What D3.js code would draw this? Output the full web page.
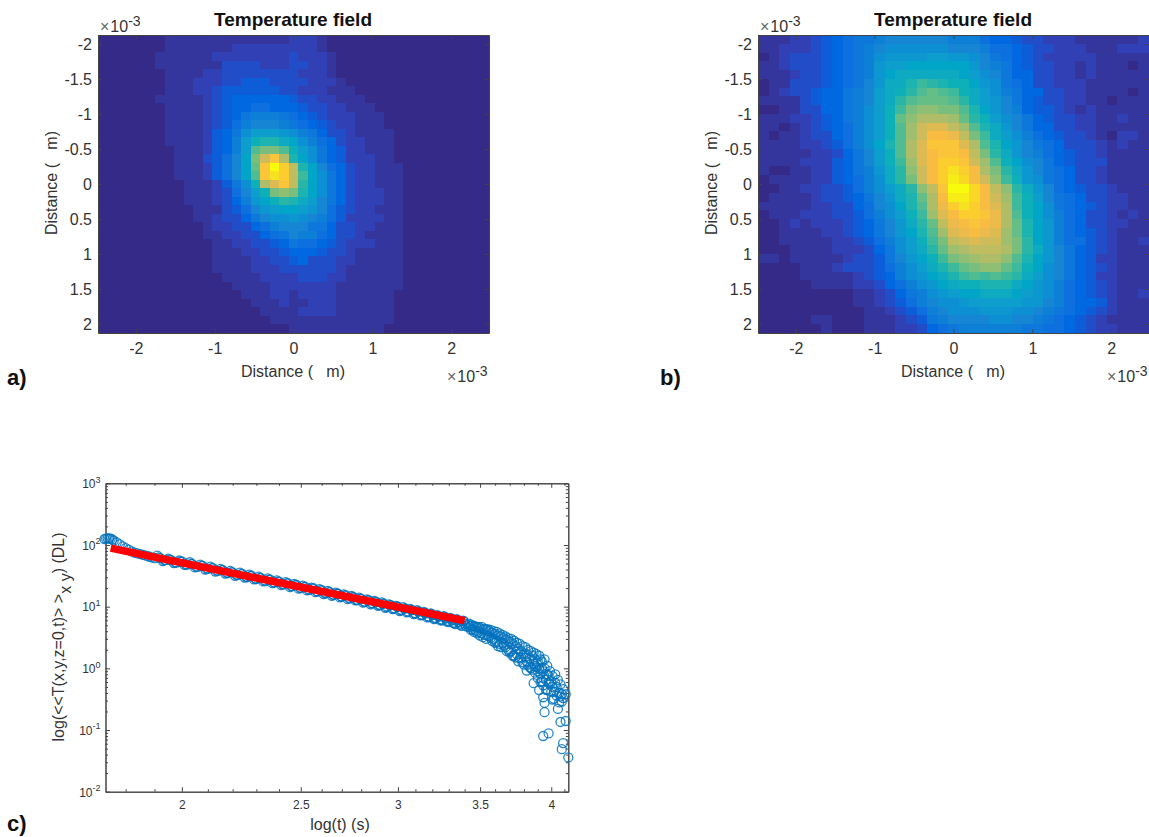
<!DOCTYPE html>
<html>
<head>
<meta charset="utf-8">
<script src="https://cdnjs.cloudflare.com/ajax/libs/d3/7.8.5/d3.min.js"></script>
<style>
    body { margin: 0; background: #fff; }
    svg { display: block; }
    text { font-family: "Liberation Sans", Arial, sans-serif; fill: #333; }
</style>
</head>
<body>
<main></main>
<script>
// field levels, one string per row, one base-36 digit per cell (0..z)
const fieldA = [
"00000001111111111111222100000000000000000",
"00000001111111222222222100000000000000000",
"00000011111122222222322210000000000000000",
"00000011111113333222332210000000000000000",
"00000001111223333333322210000000000000000",
"00000001112223344433332221000000000000000",
"00000001112234444443322211100000000000000",
"00000011111234555555433221110000000000000",
"00000001111234556655543322111000000000000",
"00000001111234578887654322211100000000000",
"00000001111234689998765432211100000000000",
"000000011112457acccba87533211110000000000",
"000000011112458cfggeda8653221110000000000",
"000000001112458cjlljfca754221110000000000",
"000000001113469dlquogda754222110000000000",
"000000001112469dkuzvpgd965322111000000000",
"000000001112469djuxvpida75322111000000000",
"000000000111247aforuphda75322111000000000",
"0000000001112369cflmlgda75322211000000000",
"0000000001112358bdfhgec975322211000000000",
"00000000001113469bcddcb964322111000000000",
"000000000011233579aaba9864222211000000000",
"00000000000122335689997753322111000000000",
"00000000000112233567988653321111000000000",
"00000000000011223345766543222111000000000",
"00000000000011122334555433211111000000000",
"00000000000011112233453332211111000000000",
"00000000000011112223333332111111000000000",
"00000000000001111222233322111111000000000",
"00000000000000111122222221111111000000000",
"00000000000000011122122221111110000000000",
"00000000000000001112112221111110000000000",
"00000000000000000111122221111110000000000",
"00000000000000000011111111111110000000000",
"00000000000000000000111111111100000000000"
];

const fieldB = [
"1112234567789999998886554332221111112",
"112223456789aaaaaa9998665433222111222",
"01233345678abbbbccbba9765432222211111",
"11233345678bccddddddb9875433221211101",
"11123345678bdeeeeeedca975533221211111",
"01133345679beegihgffdba76533222111111",
"01233455789cefhjkjifeca87553322111101",
"11113455789cehjkkkjhecb97543322110111",
"0011335578acfilmmlljgdb98544321211111",
"1112234578acfkmooonkhfca9754332211211",
"1101234568acfjnqrrpnjgeb9755332211111",
"1011233568acfjnqttsplieca865433210221",
"1111223468adgjoruuurojgdb976533321211",
"11111223579cfjortuutplheb986543321111",
"11112224579cfinrtvvuqnjfda97543331111",
"10011224578behmqtvxvtolheb97653321111",
"01111224568aehlqtvywtqmifba7653321111",
"00112233468acehmpuzzwtpmheb9654332111",
"011112334579begkotyywtqnifc9765332211",
"111112233569adgjosvxvtroifda765432211",
"011122233468acfinrtvvusojfda865332121",
"0012122234579behkpstutsokgdb865332211",
"0011112234579bdgjnrstsrnkgdb865432111",
"0011111223468acfilpqrqqnlhdb866432112",
"0001111222357acehknopppolheb975432111",
"11011111233479bdfilmnoomjgdb975422111",
"00001112333468acegiklmmkifda975432111",
"00001111123458abdegijijiheca975422111",
"000001111223568abdeffgggedba865432111",
"0000000001123578abcddeeedcba865432112",
"00000000011234689aabcccccbb9865542111",
"000000000011234689aaabbbaa98765432111",
"0000011000111234789999aa9987654321111",
"0000001000111223567888888776654322111"
];

const fieldXTicks = [-2, -1, 0, 1, 2];
const fieldYTicks = [-2, -1.5, -1, -0.5, 0, 0.5, 1, 1.5, 2];

// parula, sampled from the 64 step map
const parulaAt = [0, 4, 8, 12, 16, 20, 24, 28, 32, 36, 40, 44, 48, 52, 56, 60, 63];
const parula = ["#352a87", "#3243ba", "#0363e1", "#0d75dc", "#1485d4", "#0998d1", "#06a7c6", "#15b1b4", "#38b99e",
    "#65be86", "#92bf73", "#b7bd64", "#d9ba56", "#f8bb44", "#fcce2e", "#f5e41d", "#f9fb0e"];

// panel c: decay curve, head and main band
const decayT = [1.73,1.735,1.74,1.745,1.75,1.755,1.76,1.77,1.78,1.79,1.80,1.81,1.82,1.83,1.84,1.85,1.86,1.87,1.88,1.89,1.90,
    1.92,1.94,1.96,1.98,2.00,2.02,2.04,2.06,2.08,2.10,2.12,2.14,2.16,2.18,2.20,2.22,2.24,2.26,2.28,2.30,2.32,2.34,2.36,2.38,2.40,
    2.42,2.44,2.46,2.48,2.50,2.52,2.54,2.56,2.58,2.60,2.62,2.64,2.66,2.68,2.70,2.72,2.74,2.76,2.78,2.80,2.82,2.84,2.86,2.88,2.90,
    2.92,2.94,2.96,2.98,3.00,3.02,3.04,3.06,3.08,3.10,3.12,3.14,3.16,3.18,3.20,3.22,3.24,3.26,3.28,3.30,3.32,3.34,3.36,3.38,3.40];
const decayV = [125,127,128,128,127,123,118,110,102,95,89,84,79,75,73,71,69,67,65,63,61,
    61,57,57,52,54,48,49,44,46,41,42,38,39,35,36,32.5,34,30,31.5,28,29,26,27.5,24.5,25.5,
    23,24,21.5,22.5,20,21,18.8,20,17.5,18.5,16.5,17.2,15.5,16.2,14.5,15.2,13.6,14.2,12.8,13.4,12,12.7,11.4,11.9,10.7,
    11.3,10.1,10.6,9.4,10,8.9,9.4,8.3,8.8,7.8,8.3,7.3,7.8,6.8,7.3,6.4,6.9,6,6.4,5.6,6,5.2,5.6,4.9,5.3];

// in between points of the band
const bandT = [1.91,1.93,1.95,1.97,1.99,2.01,2.03,2.05,2.07,2.09,2.11,2.13,2.15,2.17,2.19,2.21,2.23,2.25,2.27,2.29,2.31,2.33,2.35,2.37,2.39,
    2.41,2.43,2.45,2.47,2.49,2.51,2.53,2.55,2.57,2.59,2.61,2.63,2.65,2.67,2.69,2.71,2.73,2.75,2.77,2.79,2.81,2.83,2.85,2.87,2.89,
    2.91,2.93,2.95,2.97,2.99,3.01,3.03,3.05,3.07,3.09,3.11,3.13,3.15,3.17,3.19,3.21,3.23,3.25,3.27,3.29,3.31,3.33,3.35,3.37,3.39,3.41];
const bandV = [67,55,60,51,56,47.6,52.5,43.3,48,40,44.7,37.1,41,34.4,38,31.6,35.7,29.7,33,27.6,30.6,25.7,28.8,24,26.6,
    22.4,24.9,20.7,23.3,19.6,22,18.3,20.4,17.2,19.2,16,18,15,16.9,14.1,15.8,13.3,14.9,12.6,14,11.6,13.1,10.9,12.4,10.3,
    11.7,9.6,10.9,9.1,10.3,8.5,9.8,8.05,9.2,7.55,8.75,7.2,8.2,6.7,7.8,6.3,7.3,6,7,5.7,6.6,5.4,6.25,5.1,5.95,4.8];

const midT = [1.915,1.935,1.955,1.975,1.995,2.015,2.035,2.055,2.075,2.095,2.115,2.135,2.155,2.175,2.195,2.215,2.235,2.255,2.275,2.295,2.315,2.335,2.355,2.375,2.395,
    2.415,2.435,2.455,2.475,2.495,2.515,2.535,2.555,2.575,2.595,2.615,2.635,2.655,2.675,2.695,2.715,2.735,2.755,2.775,2.795,2.815,2.835,2.855,2.875,2.895,
    2.915,2.935,2.955,2.975,2.995,3.015,3.035,3.055,3.075,3.095,3.115,3.135,3.155,3.175,3.195,3.215,3.235,3.255,3.275,3.295,3.315,3.335,3.355,3.375,3.395];
const midV = [63,57,58,52.4,53.6,48.5,49.5,44.7,45.7,41.3,42.2,38.3,39.1,35.5,36.4,33,33.8,30.7,31.4,28.5,29.3,26.6,27.3,24.8,25.4,
    23.2,23.8,21.6,22.2,20.3,20.8,19,19.6,17.8,18.3,16.8,17.2,15.7,16.2,14.7,15.2,14,14.3,12.9,13.5,12,12.6,11.3,11.9,10.6,
    11.1,9.8,10.5,9.3,10,8.7,9.3,8.3,8.85,7.8,8.4,7.4,7.95,6.9,7.6,6.6,7.1,6.2,6.8,5.9,6.4,5.5,6.1,5.3,5.8];

// the scattered tail
const tailT = [3.42,3.43,3.44,3.45,3.46,3.47,3.48,3.49,3.50,3.51,3.52,3.53,3.54,3.55,3.56,3.57,3.58,3.59,3.60,3.61,3.62,3.63,3.64,3.65,3.66,
    3.67,3.68,3.69,3.70,3.71,3.72,3.73,3.74,3.75,3.76,3.77,3.78,3.79,3.80,3.81,3.82,3.82,3.83,3.84,3.85,3.86,3.87,3.87,3.88,3.88,
    3.89,3.90,3.90,3.91,3.91,3.92,3.92,3.93,3.93,3.94,3.94,3.94,3.94,3.95,3.95,3.95,3.96,3.97,3.97,3.98,3.98,3.99,4.00,4.01,4.01,
    4.02,4.03,4.04,4.05,4.06,4.07,4.07,4.08,4.08,4.09,4.09,4.11,4.11,4.13,
    3.43,3.44,3.45,3.46,3.47,3.48,3.49,3.50,3.51,3.52,3.53,3.54,3.55,3.56,3.57,3.58,3.59,3.60,3.61,3.62,3.63,3.64,3.65,3.66,3.67,3.68,3.69,
    3.70,3.71,3.72,3.73,3.74,3.75,3.76,3.77,3.78,3.79,3.80,3.81,3.82,3.83,3.84,3.85,3.86,3.87,3.88,3.89,3.90,3.91,3.92,3.93,3.94,3.95,3.96,
    3.97,3.98,3.99,4.00,4.01,4.02,4.03,4.04,4.05,4.06,4.07,4.08,4.09];
const tailV = [5.1,4.6,4.9,4.3,4.8,4.1,4.6,3.9,4.5,3.7,4.3,3.5,4.2,3.4,4.0,3.1,3.8,3.0,3.6,2.7,3.4,2.5,3.3,2.6,3.1,
    2.2,2.9,2.0,2.7,1.9,2.5,1.6,2.3,1.7,2.1,1.45,1.9,1.25,1.75,1.5,0.92,1.7,1.15,1.45,1.0,1.6,0.575,1.2,0.85,1.4,
    1.05,0.7,1.3,0.445,1.0,0.8,1.4,1.28,0.62,0.34,0.53,0.08,0.9,0.195,0.275,1.0,0.65,0.445,0.8,0.76,0.088,0.55,0.62,0.31,0.5,
    0.41,0.58,0.5,0.22,0.4,0.135,0.35,0.29,0.049,0.46,0.0615,0.14,0.38,0.036,
    5.3,4.2,5.0,3.9,4.8,3.7,4.7,3.4,4.7,3.2,4.4,3.0,4.3,3.3,4.2,2.8,4.0,2.6,3.9,2.3,3.7,2.2,3.5,2.4,3.3,1.9,3.1,
    1.8,3.0,1.6,2.8,1.5,2.6,1.3,2.5,1.5,2.3,1.15,2.2,1.3,2.0,1.05,1.9,0.95,1.8,1.1,1.7,0.9,1.6,0.6,1.0,0.7,1.4,0.45,
    1.1,0.58,0.9,0.42,0.75,0.32,0.8,0.36,0.65,0.28,0.55,0.38,0.33];

// fitted line
const fitT = [1.75, 3.4];
const fitV = [89, 5.9];

const timeTicks = [2, 2.5, 3, 3.5, 4];
const timeMinor = [1.8, 1.9, 2.1, 2.2, 2.3, 2.4, 2.6, 2.7, 2.8, 2.9, 3.1, 3.2, 3.3, 3.4, 3.6, 3.7, 3.8, 3.9, 4.1];
const decades = [-2, -1, 0, 1, 2, 3];

!function(){
    const W = 1149, H = 837;
    const ink = '#444';

    let svg = d3.select('main').append('svg')
        .attr('width', W)
        .attr('height', H);

    // reference is a slightly soft raster
    let defs = svg.append('defs');
    defs.append('filter').attr('id', 'soft')
        .attr('x', '-5%').attr('y', '-5%').attr('width', '110%').attr('height', '110%')
        .append('feGaussianBlur').attr('stdDeviation', 0.7);

    const color = d3.scaleLinear()
        .domain(parulaAt.map(i => i / 63))
        .range(parula);

    const styleAxis = g => {
        g.selectAll('.domain').attr('stroke', ink);
        g.selectAll('.tick line').attr('stroke', ink);
    };

    const times = (g, x, y, size) => {
        let t = g.append('text').attr('x', x).attr('y', y).attr('font-size', size);
        t.append('tspan').attr('fill', '#666').text('×');
        t.append('tspan').attr('dx', 1).text('10');
        t.append('tspan').attr('font-size', size - 2).attr('dy', -6).text('-3');
    };

    const drawField = (rows, left, id, label) => {
        const top = 35, bottom = 333, right = left + 391;
        let grid = rows.map(r => r.split('').map(c => parseInt(c, 36)));

        let x = d3.scaleLinear().domain([-2.48, 2.48]).range([left, right]);
        let y = d3.scaleLinear().domain([-2.13, 2.13]).range([top, bottom]);
        let col = d3.scaleBand().domain(d3.range(grid[0].length)).range([left, right]);
        let row = d3.scaleBand().domain(d3.range(grid.length)).range([top, bottom]);

        let g = svg.append('g').attr('id', id);

        defs.append('clipPath').attr('id', id + '-clip')
            .append('rect').attr('x', left).attr('y', top)
            .attr('width', right - left).attr('height', bottom - top);

        g.append('g').attr('clip-path', 'url(#' + id + '-clip)')
            .append('g').attr('filter', 'url(#soft)')
            .selectAll('g').data(grid).join('g')
            .attr('transform', (d, i) => 'translate(0,' + row(i) + ')')
            .selectAll('rect').data(d => d).join('rect')
            .attr('x', (d, i) => col(i))
            .attr('width', col.bandwidth())
            .attr('height', row.bandwidth())
            .attr('shape-rendering', 'crispEdges')
            .attr('fill', d => color(d / 35));

        const fmt = d => String(d);
        g.append('g').attr('transform', 'translate(0,' + bottom + ')')
            .call(d3.axisBottom(x).tickValues(fieldXTicks).tickFormat(fmt).tickSize(-4).tickPadding(10).tickSizeOuter(0))
            .call(styleAxis);
        g.append('g').attr('transform', 'translate(0,' + top + ')')
            .call(d3.axisTop(x).tickValues(fieldXTicks).tickFormat('').tickSize(-4).tickSizeOuter(0))
            .call(styleAxis);
        g.append('g').attr('transform', 'translate(' + left + ',0)')
            .call(d3.axisLeft(y).tickValues(fieldYTicks).tickFormat(fmt).tickSize(-4).tickPadding(6).tickSizeOuter(0))
            .call(styleAxis);
        g.append('g').attr('transform', 'translate(' + right + ',0)')
            .call(d3.axisRight(y).tickValues(fieldYTicks).tickFormat('').tickSize(-4).tickSizeOuter(0))
            .call(styleAxis);
        g.selectAll('.tick text')
            .attr('font-size', 16)
            .attr('font-family', '"Liberation Sans", Arial, sans-serif')
            .attr('fill', '#333');

        g.append('text')
            .attr('x', left + 195).attr('y', 26)
            .attr('text-anchor', 'middle')
            .attr('font-size', 19).attr('font-weight', 'bold')
            .style('fill', '#111')
            .text('Temperature field');

        g.append('text')
            .attr('x', left + 195).attr('y', 377)
            .attr('text-anchor', 'middle')
            .attr('font-size', 16)
            .text('Distance (\u00a0\u00a0\u00a0m)');

        g.append('text')
            .attr('transform', 'translate(' + (left - 41) + ',183) rotate(-90)')
            .attr('text-anchor', 'middle')
            .attr('font-size', 16)
            .text('Distance (\u00a0\u00a0\u00a0m)');

        times(g, left + 2, 32, 16);
        times(g, right - 42, 382, 16);

        g.append('text')
            .attr('x', left - (id === 'fieldA' ? 91 : 98)).attr('y', 385)
            .attr('font-size', 22).attr('font-weight', 'bold')
            .style('fill', '#111')
            .text(label);
    };

    drawField(fieldA, 98, 'fieldA', 'a)');
    drawField(fieldB, 758, 'fieldB', 'b)');

    // panel c
    const left = 105.5, right = 568.3, top = 483.3, bottom = 791.7;
    let x = d3.scaleLog().domain([1.733, 4.13]).range([left, right]);
    let y = d3.scaleLog().domain([0.01, 1000]).range([bottom, top]);

    let c = svg.append('g').attr('id', 'decay');

    let yMinor = [];
    decades.slice(0, -1).forEach(e => d3.range(2, 10).forEach(m => yMinor.push(m * Math.pow(10, e))));
    let yMajor = decades.map(e => Math.pow(10, e));

    c.append('g').attr('transform', 'translate(0,' + bottom + ')')
        .call(d3.axisBottom(x).tickValues(timeMinor).tickFormat('').tickSize(-2.5).tickSizeOuter(0)).call(styleAxis);
    c.append('g').attr('transform', 'translate(0,' + top + ')')
        .call(d3.axisTop(x).tickValues(timeMinor).tickFormat('').tickSize(-2.5).tickSizeOuter(0)).call(styleAxis);
    c.append('g').attr('transform', 'translate(' + left + ',0)')
        .call(d3.axisLeft(y).tickValues(yMinor).tickFormat('').tickSize(-2.5).tickSizeOuter(0)).call(styleAxis);
    c.append('g').attr('transform', 'translate(' + right + ',0)')
        .call(d3.axisRight(y).tickValues(yMinor).tickFormat('').tickSize(-2.5).tickSizeOuter(0)).call(styleAxis);

    c.append('g').attr('transform', 'translate(0,' + bottom + ')')
        .call(d3.axisBottom(x).tickValues(timeTicks).tickFormat(d => String(d)).tickSize(-4.5).tickPadding(8.5).tickSizeOuter(0))
        .call(styleAxis);
    c.append('g').attr('transform', 'translate(0,' + top + ')')
        .call(d3.axisTop(x).tickValues(timeTicks).tickFormat('').tickSize(-4.5).tickSizeOuter(0)).call(styleAxis);
    let yAxis = c.append('g').attr('transform', 'translate(' + left + ',0)')
        .call(d3.axisLeft(y).tickValues(yMajor).tickFormat('').tickSize(-4.5).tickPadding(5).tickSizeOuter(0))
        .call(styleAxis);
    c.append('g').attr('transform', 'translate(' + right + ',0)')
        .call(d3.axisRight(y).tickValues(yMajor).tickFormat('').tickSize(-4.5).tickSizeOuter(0)).call(styleAxis);

    c.selectAll('.tick text')
        .attr('font-size', 12)
        .attr('font-family', '"Liberation Sans", Arial, sans-serif')
        .attr('fill', '#333');

    yAxis.selectAll('.tick text').each(function(d) {
        let t = d3.select(this).attr('dy', '0.36em');
        t.append('tspan').text('10');
        t.append('tspan').attr('font-size', 9).attr('dy', '-0.6em').text(Math.round(Math.log10(d)));
    });

    let allT = decayT.concat(bandT, midT, tailT);
    let allV = decayV.concat(bandV, midV, tailV);

    let marks = c.append('g').attr('filter', 'url(#soft)');
    marks.append('g').selectAll('circle')
        .data(allT)
        .join('circle')
        .attr('cx', d => x(d))
        .attr('cy', (d, i) => y(allV[i]))
        .attr('r', 4.5)
        .attr('fill', 'none')
        .attr('stroke', '#0072bd')
        .attr('stroke-opacity', 0.85)
        .attr('stroke-width', 1.3);

    let line = d3.line().x(d => x(d)).y((d, i) => y(fitV[i]));
    marks.append('path')
        .attr('d', line(fitT))
        .attr('fill', 'none')
        .attr('stroke', '#ff0000')
        .attr('stroke-width', 7.5);

    c.append('text')
        .attr('x', 340).attr('y', 830)
        .attr('text-anchor', 'middle')
        .attr('font-size', 16)
        .text('log(t) (s)');

    let yLabel = c.append('text')
        .attr('transform', 'translate(64,637) rotate(-90)')
        .attr('text-anchor', 'middle')
        .attr('font-size', 16);
    yLabel.append('tspan').text('log(<<T(x,y,z=0,t)>\u00a0>');
    yLabel.append('tspan').attr('dy', 7).text('x\u00a0y');
    yLabel.append('tspan').attr('dy', -7).text(') (DL)');

    c.append('text')
        .attr('x', 7).attr('y', 831)
        .attr('font-size', 22).attr('font-weight', 'bold')
        .style('fill', '#111')
        .text('c)');
}();
</script>
</body>
</html>
